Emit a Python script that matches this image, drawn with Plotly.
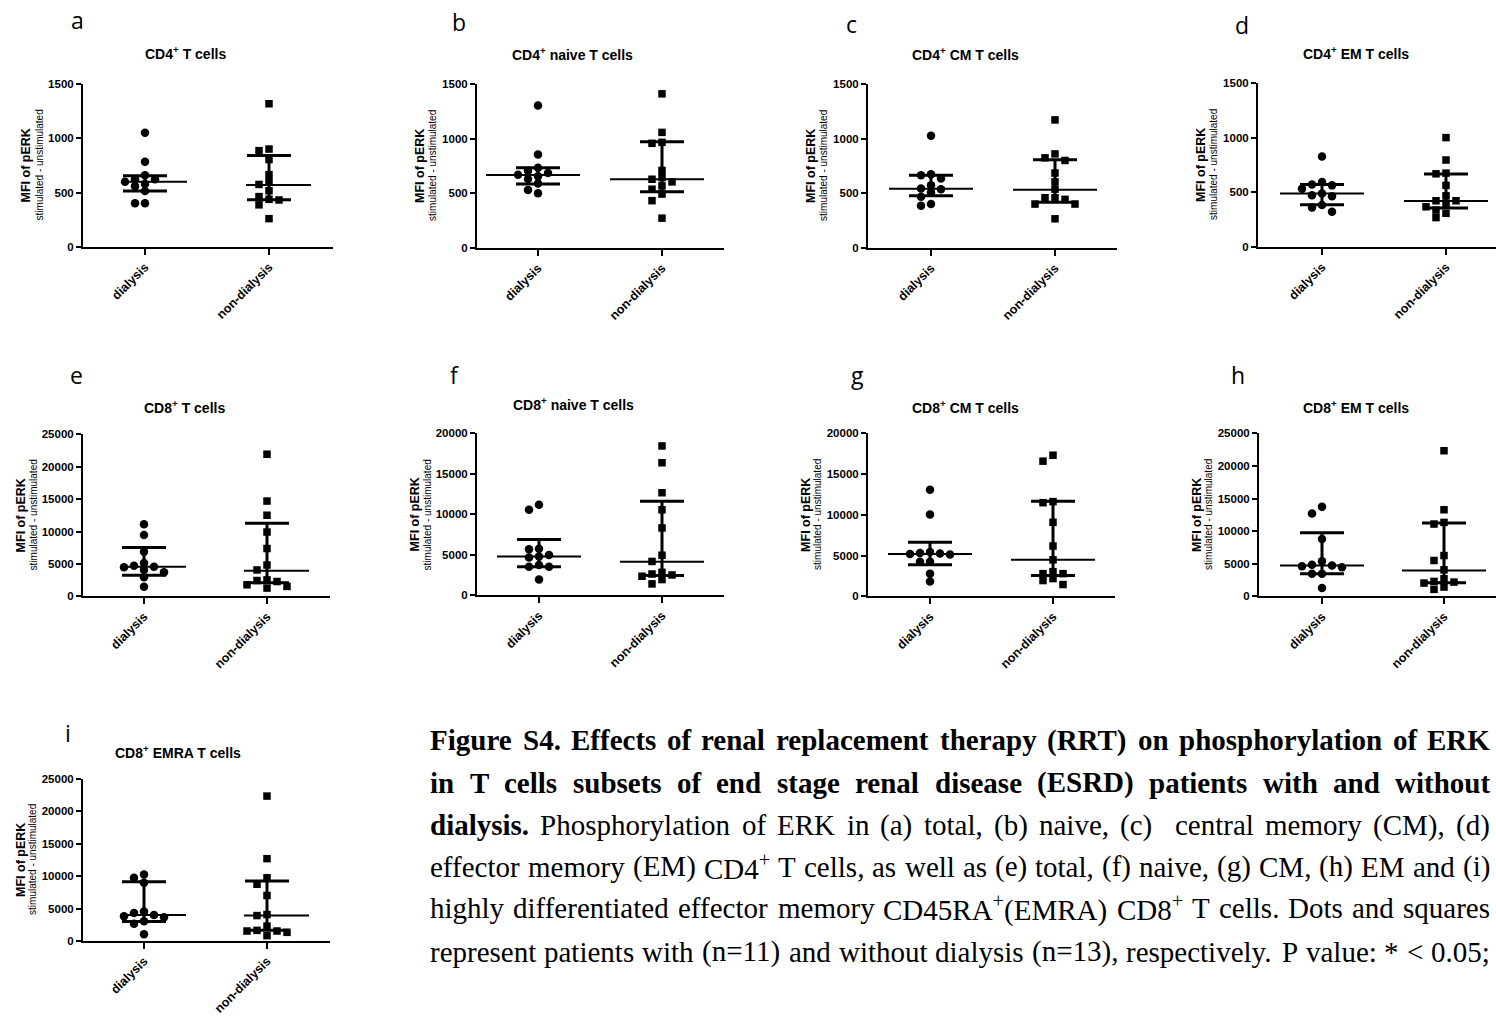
import plotly.graph_objects as go

W, H = 1496, 1016

# ---------------- data ----------------
categories = ["dialysis", "non-dialysis"]
panel_letters = ["a", "b", "c", "d", "e", "f", "g", "h", "i"]
panel_titles = ["CD4<sup>+</sup> T cells", "CD4<sup>+</sup> naive T cells", "CD4<sup>+</sup> CM T cells",
                "CD4<sup>+</sup> EM T cells", "CD8<sup>+</sup> T cells", "CD8<sup>+</sup> naive T cells",
                "CD8<sup>+</sup> CM T cells", "CD8<sup>+</sup> EM T cells", "CD8<sup>+</sup> EMRA T cells"]
y_axis_max = [1500, 1500, 1500, 1500, 25000, 20000, 20000, 25000, 25000]
y_tick_step = [500, 500, 500, 500, 5000, 5000, 5000, 5000, 5000]

a_dialysis = [1052, 783, 659, 623, 623, 599, 578, 559, 514, 402, 402]
a_non_dialysis = [1318, 901, 886, 804, 665, 599, 575, 517, 463, 438, 432, 387, 260]
b_dialysis = [1304, 854, 733, 706, 686, 670, 655, 630, 590, 530, 500]
b_non_dialysis = [1410, 1057, 966, 957, 709, 643, 628, 604, 567, 537, 492, 432, 272]
c_dialysis = [1026, 673, 664, 634, 573, 543, 537, 507, 468, 401, 386]
c_non_dialysis = [1171, 860, 824, 800, 685, 604, 537, 459, 459, 444, 401, 401, 266]
d_dialysis = [828, 593, 572, 563, 533, 488, 473, 464, 383, 361, 322]
d_non_dialysis = [1000, 795, 675, 669, 563, 467, 422, 422, 398, 367, 337, 307, 268]
e_dialysis = [11150, 9470, 6870, 5140, 4735, 4580, 4480, 4070, 3720, 2950, 1480]
e_non_dialysis = [21945, 14715, 12525, 9930, 7385, 4840, 4075, 2545, 2445, 2290, 1780, 1530, 1275]
f_dialysis = [11180, 10570, 5770, 5690, 5000, 4800, 4675, 3740, 3540, 3540, 1950]
f_non_dialysis = [18455, 16380, 12680, 10570, 8330, 4960, 4190, 2845, 2640, 2520, 2360, 1950, 1420]
g_dialysis = [13090, 10060, 5450, 5330, 5270, 5210, 5150, 4240, 4240, 2790, 1820]
g_non_dialysis = [17330, 16600, 11630, 11500, 9090, 6180, 4480, 3030, 2790, 2790, 2180, 1940, 1450]
h_dialysis = [13750, 12730, 8810, 5400, 4840, 4735, 4635, 4480, 3460, 3460, 1270]
h_non_dialysis = [22350, 13290, 11350, 11100, 6260, 5500, 4070, 2700, 2290, 2190, 2040, 1425, 1070]
i_dialysis = [10265, 9755, 8995, 4520, 4320, 4015, 3810, 3660, 3050, 2640, 1015]
i_non_dialysis = [22360, 12700, 9755, 8740, 7010, 4065, 3910, 2285, 1625, 1525, 1525, 1320, 810]

median_dialysis = [600, 667, 540, 488, 4580, 4800, 5190, 4735, 4015]
q1_dialysis = [514, 585, 477, 386, 3260, 3540, 3880, 3460, 3000]
q3_dialysis = [656, 733, 664, 572, 7535, 6910, 6630, 9775, 9145]
median_non_dialysis = [569, 628, 531, 419, 3970, 4150, 4480, 3970, 3910]
q1_non_dialysis = [435, 513, 417, 355, 2090, 2440, 2545, 2090, 1625]
q3_non_dialysis = [841, 971, 806, 666, 11300, 11625, 11670, 11250, 9250]

dialysis_groups = [a_dialysis, b_dialysis, c_dialysis, d_dialysis, e_dialysis,
                   f_dialysis, g_dialysis, h_dialysis, i_dialysis]
non_dialysis_groups = [a_non_dialysis, b_non_dialysis, c_non_dialysis, d_non_dialysis, e_non_dialysis,
                       f_non_dialysis, g_non_dialysis, h_non_dialysis, i_non_dialysis]

caption_lines = [
    ("Figure S4. Effects of renal replacement therapy (RRT) on phosphorylation of ERK", ""),
    ("in T cells subsets of end stage renal disease (ESRD) patients with and without", ""),
    ("dialysis.", "Phosphorylation of ERK in (a) total, (b) naive, (c)  central memory (CM), (d)"),
    ("", "effector memory (EM) CD4^+ T cells, as well as (e) total, (f) naive, (g) CM, (h) EM and (i)"),
    ("", "highly differentiated effector memory CD45RA^+(EMRA) CD8^+ T cells. Dots and squares"),
    ("", "represent patients with (n=11) and without dialysis (n=13), respectively. P value: * < 0.05;"),
]

# ---------------- layout geometry (pixels) ----------------
plot_px = [(83, 333, 79, 244), (477, 724, 79, 245), (868, 1117, 79, 245), (1258, 1496, 78, 244),
           (83, 330, 434, 598), (477, 724, 433, 597), (868, 1115, 433, 598), (1259, 1496, 433, 598),
           (83, 330, 783, 947)]
tick_px = [(145, 269), (538, 662), (931, 1055), (1322, 1446), (144, 267), (539, 662), (930, 1053),
           (1322, 1444), (144, 267)]
title_px = [(185, 48), (572, 49), (965, 49), (1356, 48), (184, 406), (573, 403), (965, 406),
            (1356, 406), (178, 756)]
letter_px = [(77, 14), (459, 16), (852, 18), (1242, 19), (76, 374), (454, 374), (857, 374),
             (1238, 374), (68, 736)]
median_ext_px = [(-23, 42), (-52, 42), (-42, 42), (-42, 42), (-23, 42), (-42, 42), (-42, 42),
                 (-42, 42), (-23, 42)]
IQR_HALF_PX = 22
COL_PX = 10
COLLIDE_PX = 7.0

SANS = "Liberation Sans, Arial, sans-serif"
SERIF = "Liberation Serif, Times New Roman, serif"


def px2x(px):
    return px / W


def px2y(py):
    return 1 - py / H


def beeswarm(values, px_per_unit):
    order = sorted(range(len(values)), key=lambda k: -values[k])
    placed = []
    cols = [0] * len(values)
    for k in order:
        ypx = values[k] * px_per_unit
        chosen = 0
        for c in [0, -1, 1, -2, 2, -3, 3, -4, 4]:
            if all(not (pc == c and abs(py - ypx) < COLLIDE_PX) for pc, py in placed):
                chosen = c
                break
        placed.append((chosen, ypx))
        cols[k] = chosen
    return cols


fig = go.Figure()
annotations = []
layout_axes = {}

for i in range(9):
    n = i + 1
    xs, ys = ("x" if n == 1 else f"x{n}"), ("y" if n == 1 else f"y{n}")
    x0, x1, y0, y1 = plot_px[i]
    t0, t1 = tick_px[i]
    sp = t1 - t0
    ymax = y_axis_max[i]
    ppu = (y1 - y0) / ymax

    groups = [(dialysis_groups[i], "circle", 8.5, median_dialysis[i], q1_dialysis[i], q3_dialysis[i]),
              (non_dialysis_groups[i], "square", 7.5, median_non_dialysis[i], q1_non_dialysis[i],
               q3_non_dialysis[i])]
    for gi, (vals, sym, msize, med, q1, q3) in enumerate(groups):
        cols = beeswarm(vals, ppu)
        xv = [gi + c * COL_PX / sp for c in cols]
        fig.add_trace(go.Scatter(x=xv, y=vals, mode="markers", xaxis=xs, yaxis=ys,
                                 marker=dict(symbol=sym, size=msize, color="black",
                                             line=dict(width=0)),
                                 showlegend=False, hoverinfo="y", cliponaxis=False))
        L, R = median_ext_px[i]
        fig.add_trace(go.Scatter(x=[gi + L / sp, gi + R / sp], y=[med, med], mode="lines",
                                 xaxis=xs, yaxis=ys, line=dict(color="black", width=2),
                                 showlegend=False, hoverinfo="skip", cliponaxis=False))
        hw = IQR_HALF_PX / sp
        fig.add_trace(go.Scatter(x=[gi - hw, gi + hw, None, gi - hw, gi + hw, None, gi, gi],
                                 y=[q1, q1, None, q3, q3, None, q1, q3], mode="lines",
                                 xaxis=xs, yaxis=ys, line=dict(color="black", width=3),
                                 showlegend=False, hoverinfo="skip", cliponaxis=False))

    xkey = "xaxis" if n == 1 else f"xaxis{n}"
    ykey = "yaxis" if n == 1 else f"yaxis{n}"
    yt = list(range(0, ymax + 1, y_tick_step[i]))
    layout_axes[xkey] = dict(
        domain=[px2x(x0), px2x(x1)], range=[(x0 - t0) / sp, (x1 - t0) / sp],
        tickvals=[0, 1], ticktext=categories, tickangle=-45, ticks="outside", ticklen=6,
        tickwidth=2, tickcolor="black", showline=True, linecolor="black", linewidth=2,
        showgrid=False, zeroline=False, anchor=ys, fixedrange=True,
        tickfont=dict(family=SANS, size=12.5, color="black", weight="bold"))
    layout_axes[ykey] = dict(
        domain=[px2y(y1), px2y(y0)], range=[0, ymax],
        tickvals=yt, ticktext=[str(v) for v in yt], ticks="outside", ticklen=5,
        tickwidth=2, tickcolor="black", showline=True, linecolor="black", linewidth=2,
        showgrid=False, zeroline=False, anchor=xs, fixedrange=True,
        tickfont=dict(family=SANS, size=11.5, color="black", weight="bold"))

    # title, letter, y titles
    tx, ty = title_px[i]
    annotations.append(dict(x=px2x(tx), y=px2y(ty), xref="paper", yref="paper", showarrow=False,
                            text=f"<b>{panel_titles[i]}</b>", xanchor="center", yanchor="middle",
                            font=dict(family=SANS, size=14, color="black")))
    lx, ly = letter_px[i]
    annotations.append(dict(x=px2x(lx), y=px2y(ly), xref="paper", yref="paper", showarrow=False,
                            text=panel_letters[i], xanchor="center", yanchor="middle",
                            font=dict(family="Open Sans, sans-serif", size=23, color="black")))
    off1, off2 = (57, 44) if ymax <= 1500 else (62, 50)
    cy = (y0 + y1) / 2
    annotations.append(dict(x=px2x(x0 - off1), y=px2y(cy), xref="paper", yref="paper",
                            showarrow=False, text="<b>MFI of pERK</b>", textangle=-90,
                            xanchor="center", yanchor="middle",
                            font=dict(family=SANS, size=12.5, color="black")))
    annotations.append(dict(x=px2x(x0 - off2), y=px2y(cy), xref="paper", yref="paper",
                            showarrow=False, text="stimulated - unstimulated", textangle=-90,
                            xanchor="center", yanchor="middle",
                            font=dict(family=SANS, size=10, color="black")))

# ---------------- caption (justified) ----------------
TR = {" ": 250, "(": 333, ")": 333, "*": 500, "+": 564, ",": 250, "-": 333, ".": 250, ":": 278,
      ";": 278, "<": 564, "=": 564, ">": 564,
      "A": 722, "B": 667, "C": 667, "D": 722, "E": 611, "F": 556, "G": 722, "H": 722, "I": 333,
      "J": 389, "K": 722, "L": 611, "M": 889, "N": 722, "O": 722, "P": 556, "Q": 722, "R": 667,
      "S": 556, "T": 611, "U": 722, "V": 722, "W": 944, "X": 722, "Y": 722, "Z": 611,
      "a": 444, "b": 500, "c": 444, "d": 500, "e": 444, "f": 333, "g": 500, "h": 500, "i": 278,
      "j": 278, "k": 500, "l": 278, "m": 778, "n": 500, "o": 500, "p": 500, "q": 500, "r": 333,
      "s": 389, "t": 278, "u": 500, "v": 500, "w": 722, "x": 500, "y": 500, "z": 444}
TB = {" ": 250, "(": 333, ")": 333, ",": 250, "-": 333, ".": 250, ":": 333, ";": 333,
      "A": 722, "B": 667, "C": 722, "D": 722, "E": 667, "F": 611, "G": 778, "H": 778, "I": 389,
      "J": 500, "K": 778, "L": 667, "M": 944, "N": 722, "O": 778, "P": 611, "Q": 778, "R": 722,
      "S": 556, "T": 667, "U": 722, "V": 722, "W": 1000, "X": 722, "Y": 722, "Z": 667,
      "a": 500, "b": 556, "c": 444, "d": 556, "e": 444, "f": 333, "g": 500, "h": 556, "i": 278,
      "j": 333, "k": 556, "l": 278, "m": 833, "n": 556, "o": 500, "p": 556, "q": 556, "r": 444,
      "s": 389, "t": 333, "u": 556, "v": 500, "w": 722, "x": 500, "y": 500, "z": 444}

CAP_SIZE = 29
CAP_X0, CAP_X1 = 430, 1490
cap_line_y = [744, 787, 830, 872, 914, 958]


def word_width(wd, bold):
    table = TB if bold else TR
    w, k = 0.0, 0
    while k < len(wd):
        if wd[k] == "^":
            w += table.get(wd[k + 1], 500) * 0.7
            k += 2
        else:
            w += table.get(wd[k], 500)
            k += 1
    return w * CAP_SIZE / 1000


def word_html(wd, bold):
    out, k = "", 0
    while k < len(wd):
        if wd[k] == "^":
            out += f"<sup>{wd[k + 1]}</sup>"
            k += 2
        else:
            out += wd[k]
            k += 1
    return f"<b>{out}</b>" if bold else out


for li, (bold_part, reg_part) in enumerate(caption_lines):
    words = []
    if bold_part:
        words += [(w, True) for w in bold_part.split(" ")]
    if reg_part:
        words += [(w, False) for w in reg_part.split(" ")]
    widths = [word_width(w, b) for w, b in words]
    gaps = len(words) - 1
    gap = (CAP_X1 - CAP_X0 - sum(widths)) / gaps
    cx = CAP_X0
    for (w, b), ww in zip(words, widths):
        if w:
            annotations.append(dict(x=px2x(cx), y=px2y(cap_line_y[li]), xref="paper", yref="paper",
                                    showarrow=False, text=word_html(w, b), xanchor="left",
                                    yanchor="middle", borderpad=0, borderwidth=0,
                                    font=dict(family=SERIF, size=CAP_SIZE, color="black")))
        cx += ww + gap

fig.update_layout(width=W, height=H, margin=dict(l=0, r=0, t=0, b=0), autosize=False,
                  paper_bgcolor="white", plot_bgcolor="white", showlegend=False,
                  annotations=annotations, **layout_axes)

fig.write_html("out.html", config={"displayModeBar": False},
               post_script="document.body.style.margin='0';document.body.style.overflow='hidden';")
